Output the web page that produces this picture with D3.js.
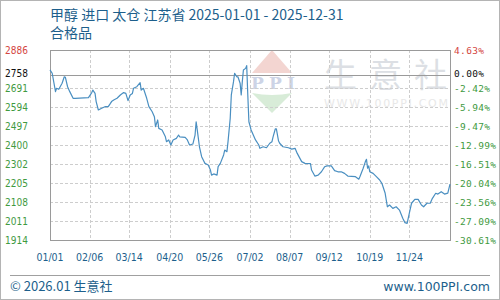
<!DOCTYPE html>
<html>
<head>
<meta charset="utf-8">
<script src="https://cdn.jsdelivr.net/npm/d3@7/dist/d3.min.js"></script>
<style>
  html, body { margin: 0; padding: 0; background: #fff; }
  svg { display: block; }
</style>
</head>
<body>
<div id="chart"></div>
<script>
/* 甲醇 进口 太仓 — daily price line, 2025 */

const DATES = [
  '01-01','01-03','01-06','01-07','01-09','01-12','01-14','01-15','01-17','01-19','01-22','01-24',
  '02-05','02-08','02-09','02-11','02-12','02-14','02-17','02-20','02-23','02-25','02-26','02-28',
  '03-03','03-06','03-09','03-11','03-13','03-15','03-17','03-18','03-21','03-24','03-25','03-27','03-30',
  '04-01','04-04','04-06','04-07','04-09','04-10','04-13','04-16','04-17','04-19','04-21','04-23','04-26','04-28','04-29',
  '05-04','05-06','05-08','05-11','05-13','05-14','05-15','05-17','05-19','05-22','05-25','05-27','05-28','05-30',
  '06-02','06-03','06-05','06-08','06-09','06-11','06-12','06-14','06-15','06-17','06-18','06-20','06-21','06-23','06-24','06-25','06-26','06-28','06-29','06-30',
  '07-01','07-03','07-07','07-10','07-11','07-14','07-17','07-20','07-22','07-23','07-25','07-26','07-28','07-29',
  '08-01','08-06','08-09','08-12','08-14','08-18','08-21','08-26','08-27','08-30',
  '09-02','09-05','09-08','09-10','09-14','09-17','09-20','09-23','09-26','09-29',
  '10-06','10-09','10-10','10-13','10-15','10-16','10-17','10-18','10-19','10-22','10-25','10-28','10-30',
  '11-02','11-04','11-06','11-09','11-12','11-15','11-18','11-20','11-22','11-24','11-26','11-29',
  '12-02','12-05','12-07','12-10','12-13','12-15','12-18','12-20','12-23','12-26','12-29','12-31'
];
const PRICES = [
  2784,2767,2673,2690,2685,2716,2749,2746,2698,2673,2639,2639,
  2642,2668,2681,2664,2622,2579,2588,2596,2596,2613,2622,2630,
  2639,2656,2668,2664,2627,2656,2664,2690,2698,2719,2681,2690,2639,
  2596,2570,2545,2494,2528,2485,2477,2442,2417,2426,2400,2426,2434,2451,2442,
  2439,2426,2400,2405,2451,2519,2477,2391,2340,2306,2298,2272,2246,2252,
  2246,2289,2306,2349,2374,2366,2417,2537,2656,2724,2767,2749,2749,2716,2656,2724,2784,2792,2806,2656,
  2519,2477,2426,2400,2383,2391,2386,2409,2417,2442,2482,2482,2420,2409,
  2391,2386,2379,2383,2357,2315,2306,2305,2272,2241,
  2246,2263,2289,2293,2293,2269,2263,2263,2255,2241,
  2238,2225,2238,2281,2315,2327,2281,2293,2263,2255,2238,2221,2204,
  2153,2084,2093,2076,2084,2067,2025,2003,1999,2051,2102,2122,
  2122,2093,2084,2102,2102,2127,2153,2149,2161,2149,2154,2200
];

const Y_TICKS = [2886, 2758, 2691.6, 2594.4, 2497.2, 2400, 2302.8, 2205.6, 2108.4, 2011.2, 1914];
const Y_LABELS = ['2886','2758','2691','2594','2497','2400','2302','2205','2108','2011','1914'];
const PCT_LABELS = ['4.63%','0.00%','-2.42%','-5.94%','-9.47%','-12.99%','-16.51%','-20.04%','-23.56%','-27.09%','-30.61%'];
const X_TICKS = ['01-01','02-06','03-14','04-20','05-26','07-02','08-07','09-12','10-19','11-24'];
const BASE = 2758;

const W = 500, H = 300;
const M = { top: 50, right: 50, bottom: 60, left: 50 };
const RED = '#d4463f', GREEN = '#3f9a3f', INK = '#111', BLUE = '#1d5f8c';
const LINE = '#4a8fc1', GRID = '#cdcdcd', FRAME = '#9a9a9a';
const NUM_FONT = '"DejaVu Sans Condensed", "DejaVu Sans", sans-serif';
const CJK = '"Noto Sans CJK SC", "Noto Sans", sans-serif';

const parse = d3.timeParse('%Y-%m-%d');
const data = DATES.map((d, i) => ({ date: parse('2025-' + d), v: PRICES[i] }));

const svg = d3.select('#chart').append('svg').attr('width', W).attr('height', H);

svg.append('rect').attr('x', 0.5).attr('y', 0.5).attr('width', W - 1).attr('height', H - 1)
  .attr('fill', '#fff').attr('stroke', '#b4b4b4');

const x = d3.scaleTime().domain([parse('2025-01-01'), parse('2025-12-31')]).range([M.left, W - M.right]);
const y = d3.scaleLinear().domain([1914, 2886]).range([H - M.bottom, M.top]);

/* watermark — drawn first so grid and line sit on top */
const wm = svg.append('g');
wm.append('path').attr('d', 'M252,73 L272,50 L292,73 Z').attr('fill', '#f3d5d1');
wm.append('text').attr('x', 273).attr('y', 89).attr('text-anchor', 'middle')
  .attr('font-family', '"DejaVu Serif", serif').attr('font-weight', 'bold').attr('font-size', 17)
  .attr('fill', '#cdd4e6').attr('textLength', 44).text('PPI');
wm.append('path').attr('d', 'M252,93 Q272,97 292,93 L272,113 Z').attr('fill', '#d8ecd8');
wm.append('text').attr('x', 324).attr('y', 87).attr('font-family', CJK).attr('font-size', 33)
  .attr('fill', '#dcdfe4').attr('letter-spacing', 12).text('生意社');
wm.append('text').attr('x', 324).attr('y', 107).attr('font-family', '"DejaVu Sans", sans-serif')
  .attr('font-size', 11).attr('fill', '#e8e8e8').attr('textLength', 124).text('WWW.100PPI.COM');

/* grid */
const g = svg.append('g');
g.selectAll('line.h').data(Y_TICKS.filter((t, i) => i > 1 && i < Y_TICKS.length - 1)).join('line')
  .attr('x1', M.left).attr('x2', W - M.right)
  .attr('y1', (d) => Math.round(y(d)) + 0.5).attr('y2', (d) => Math.round(y(d)) + 0.5)
  .attr('stroke', GRID).attr('stroke-dasharray', '3,2');
g.selectAll('line.v').data(X_TICKS.slice(1)).join('line')
  .attr('x1', (d) => Math.round(x(parse('2025-' + d))) + 0.5).attr('x2', (d) => Math.round(x(parse('2025-' + d))) + 0.5)
  .attr('y1', M.top).attr('y2', H - M.bottom)
  .attr('stroke', GRID).attr('stroke-dasharray', '3,2');
g.append('line').attr('x1', M.left).attr('x2', W - M.right)
  .attr('y1', Math.round(y(BASE)) + 0.5).attr('y2', Math.round(y(BASE)) + 0.5)
  .attr('stroke', FRAME);

/* frame */
svg.append('rect').attr('x', M.left + 0.5).attr('y', M.top + 0.5)
  .attr('width', W - M.left - M.right).attr('height', H - M.top - M.bottom)
  .attr('fill', 'none').attr('stroke', FRAME);

/* price line */
svg.append('path').datum(data)
  .attr('fill', 'none').attr('stroke', LINE).attr('stroke-width', 1.2)
  .attr('stroke-linejoin', 'round')
  .attr('d', d3.line().x((d) => x(d.date)).y((d) => y(d.v)));

/* axis labels — the base row sits a touch high so it clears the row below */
const tone = (i) => (i === 0 ? RED : i === 1 ? INK : GREEN);
const nudge = (i) => (i === 1 ? -1.5 : i === 2 ? 0.5 : 0);
svg.append('g').selectAll('text').data(Y_TICKS).join('text')
  .attr('x', 28).attr('y', (d, i) => y(d) + 3.5 + nudge(i))
  .attr('text-anchor', 'end').attr('font-family', NUM_FONT).attr('font-size', 10)
  .attr('fill', (d, i) => tone(i)).text((d, i) => Y_LABELS[i]);
svg.append('g').selectAll('text').data(Y_TICKS).join('text')
  .attr('x', 454).attr('y', (d, i) => y(d) + 3.5 + nudge(i))
  .attr('font-family', '"DejaVu Sans Mono", monospace').attr('font-size', 9.5)
  .attr('textLength', (d, i) => PCT_LABELS[i].length * 6).attr('lengthAdjust', 'spacing')
  .attr('fill', (d, i) => tone(i)).text((d, i) => PCT_LABELS[i]);
svg.append('g').selectAll('text').data(X_TICKS).join('text')
  .attr('x', (d) => x(parse('2025-' + d))).attr('y', 261)
  .attr('text-anchor', 'middle').attr('font-family', NUM_FONT).attr('font-size', 10.5)
  .attr('fill', BLUE).text((d) => d.replace('-', '/'));

/* titles */
svg.append('text').attr('x', 50).attr('y', 20).attr('font-family', CJK).attr('font-size', 14)
  .attr('fill', BLUE).text('甲醇 进口 太仓 江苏省 2025-01-01 - 2025-12-31');
svg.append('text').attr('x', 50).attr('y', 38).attr('font-family', CJK).attr('font-size', 14)
  .attr('fill', BLUE).text('合格品');

/* footer */
svg.append('line').attr('x1', 10).attr('x2', 490).attr('y1', 275.5).attr('y2', 275.5).attr('stroke', '#a0a0a0');
svg.append('text').attr('x', 10).attr('y', 291).attr('font-family', CJK).attr('font-size', 13)
  .attr('fill', BLUE).text('© 2026.01 生意社');
svg.append('text').attr('x', 490).attr('y', 291).attr('text-anchor', 'end')
  .attr('font-family', '"DejaVu Sans", sans-serif').attr('font-size', 12.5)
  .attr('fill', BLUE).text('www.100PPI.com');
</script>
</body>
</html>
